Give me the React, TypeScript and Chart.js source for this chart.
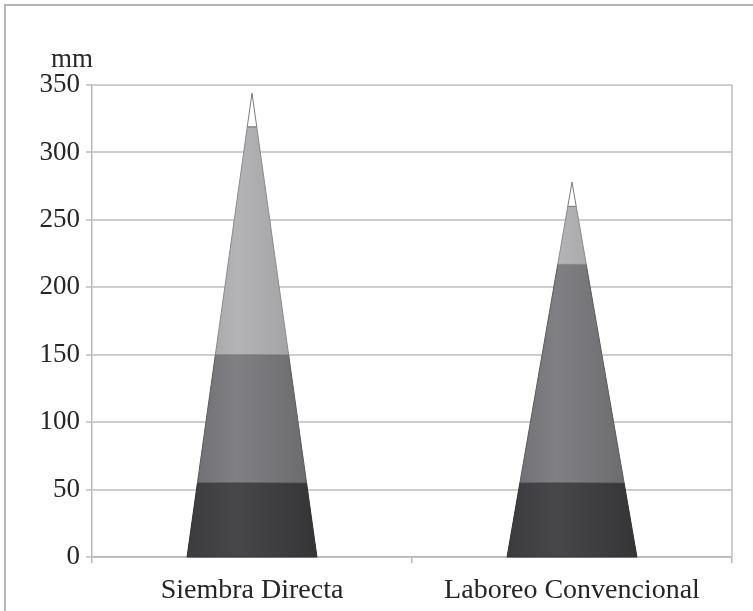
import React, { useEffect, useRef } from "react";
import { Chart, registerables } from "chart.js";

Chart.register(...registerables);

// Categories and the stacked layer thicknesses (mm) for each cone
const categories = ["Siembra Directa", "Laboreo Convencional"];
const capa1 = [55, 55];
const capa2 = [95, 162];
const capa3 = [169, 43];
const capa4 = [25, 18];
const yTickStep = 50;
const yMax = 350;
const unitLabel = "mm";

// Shading per layer: [edge, highlight, far edge]
const layerShades = [
  ["#3c3c3f", "#47474a", "#353538"],
  ["#6e6e72", "#808084", "#69696c"],
  ["#9e9ea1", "#b4b4b6", "#9b9b9e"],
  ["#ffffff", "#ffffff", "#ffffff"],
];
const layerOutline = ["#2e2e30", "#5a5a5d", "#8a8a8d", "#7a7a7d"];

const FONT = "'Liberation Serif', 'Times New Roman', serif";

const conePlugin = {
  id: "cones",
  afterDatasetsDraw(chart: any) {
    const ctx = chart.ctx as CanvasRenderingContext2D;
    const yScale = chart.scales.y;
    const n = chart.data.labels.length;
    const sets = chart.data.datasets;
    for (let i = 0; i < n; i++) {
      const el = chart.getDatasetMeta(0).data[i];
      const cx = el.x;
      const half = el.width / 2;
      let total = 0;
      sets.forEach((d: any) => (total += d.data[i]));
      let acc = 0;
      sets.forEach((d: any, k: number) => {
        const a = acc;
        const b = acc + d.data[i];
        acc = b;
        const ya = yScale.getPixelForValue(a);
        const yb = yScale.getPixelForValue(b);
        const wa = half * (1 - a / total);
        const wb = half * (1 - b / total);
        const g = ctx.createLinearGradient(cx - half, 0, cx + half, 0);
        const sh = layerShades[k];
        g.addColorStop(0, sh[0]);
        g.addColorStop(0.38, sh[1]);
        g.addColorStop(1, sh[2]);
        ctx.save();
        ctx.beginPath();
        ctx.moveTo(cx - wa, ya);
        ctx.lineTo(cx + wa, ya);
        ctx.lineTo(cx + wb, yb);
        ctx.lineTo(cx - wb, yb);
        ctx.closePath();
        ctx.fillStyle = g;
        ctx.fill();
        ctx.lineWidth = 1;
        ctx.strokeStyle = layerOutline[k];
        ctx.stroke();
        ctx.restore();
      });
    }
  },
};

const framePlugin = {
  id: "frame",
  afterDraw(chart: any) {
    const ctx = chart.ctx as CanvasRenderingContext2D;
    const area = chart.chartArea;
    ctx.save();
    // outer frame (top and left edges)
    ctx.strokeStyle = "#b4b4b4";
    ctx.lineWidth = 2;
    ctx.beginPath();
    ctx.moveTo(5, 620);
    ctx.lineTo(5, 5);
    ctx.lineTo(760, 5);
    ctx.stroke();
    // right edge of plot area
    ctx.strokeStyle = "#bcbcbc";
    ctx.lineWidth = 1.5;
    ctx.beginPath();
    ctx.moveTo(area.right, area.top);
    ctx.lineTo(area.right, area.bottom);
    ctx.stroke();
    // unit label
    ctx.fillStyle = "#2a2a2a";
    ctx.font = `27px ${FONT}`;
    ctx.textAlign = "left";
    ctx.textBaseline = "alphabetic";
    ctx.fillText(unitLabel, 51, 67);
    ctx.restore();
  },
};

export default function App() {
  const ref = useRef<HTMLCanvasElement>(null);

  useEffect(() => {
    if (!ref.current) return;
    const series = [capa1, capa2, capa3, capa4];
    const chart = new Chart(ref.current, {
      type: "bar",
      data: {
        labels: categories,
        datasets: series.map((s, k) => ({
          label: `capa ${k + 1}`,
          data: s,
          backgroundColor: "rgba(0,0,0,0)",
          borderWidth: 0,
          barPercentage: 0.406,
          categoryPercentage: 1,
        })),
      },
      options: {
        animation: false,
        responsive: false,
        devicePixelRatio: 1,
        layout: { padding: { top: 85, right: 21, left: 0, bottom: 0 } },
        plugins: { legend: { display: false }, tooltip: { enabled: false } },
        scales: {
          x: {
            stacked: true,
            grid: {
              display: true,
              offset: true,
              drawOnChartArea: false,
              drawTicks: true,
              tickLength: 6,
              color: "#b8b8b8",
              lineWidth: 1.5,
            },
            border: { display: true, color: "#b8b8b8", width: 1.5 },
            ticks: {
              color: "#262626",
              font: { family: FONT, size: 28 },
              padding: 11,
            },
            afterFit: (s: any) => {
              s.height = 54;
            },
          },
          y: {
            stacked: true,
            min: 0,
            max: yMax,
            ticks: {
              stepSize: yTickStep,
              color: "#262626",
              font: { family: FONT, size: 27 },
              padding: 6,
            },
            grid: {
              color: "#cdcdcd",
              lineWidth: 2,
              tickLength: 6,
              drawTicks: true,
            },
            border: { display: true, color: "#b8b8b8", width: 1.5 },
            afterFit: (s: any) => {
              s.width = 92;
            },
          },
        },
      },
      plugins: [conePlugin, framePlugin],
    });
    return () => chart.destroy();
  }, []);

  return (
    <div
      style={{
        position: "absolute",
        left: 0,
        top: 0,
        width: 753,
        height: 611,
        background: "#ffffff",
      }}
    >
      <canvas ref={ref} width={753} height={611} />
    </div>
  );
}
